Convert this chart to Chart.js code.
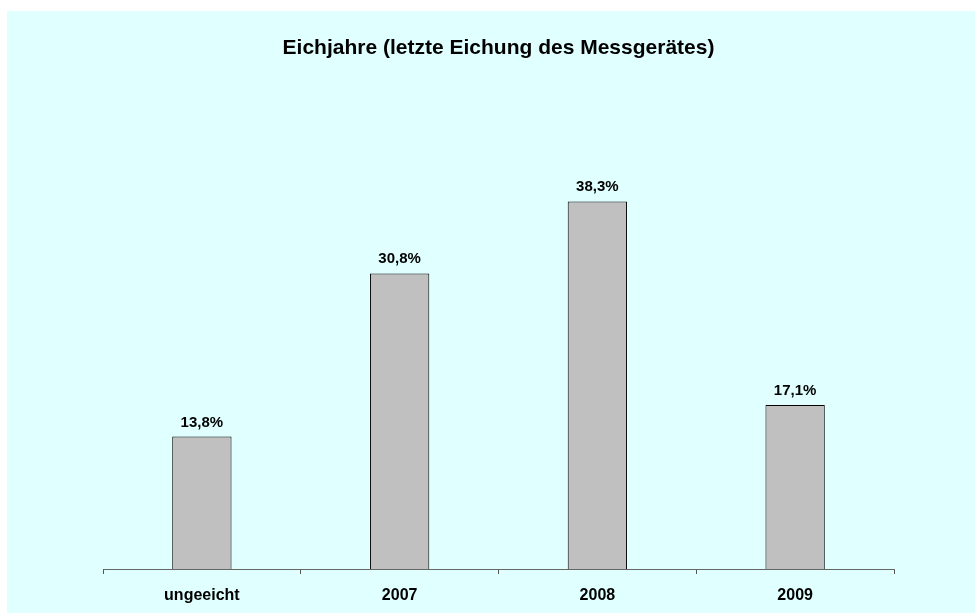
<!DOCTYPE html>
<html>
<head>
<meta charset="utf-8">
<script src="https://cdn.jsdelivr.net/npm/chart.js@4"></script>
<style>
  html, body { margin: 0; padding: 0; background: #fff; overflow: hidden; }
  #wrap { width: 975px; height: 613px; }
  canvas { display: block; }
</style>
</head>
<body>
<div id="wrap"><canvas id="eichjahre" width="975" height="613"></canvas></div>
<script>
const categories = ['ungeeicht', '2007', '2008', '2009'];
const shares = [13.8, 30.8, 38.3, 17.1];
const chartTitle = 'Eichjahre (letzte Eichung des Messgerätes)';

const FONT = "'Liberation Sans', Arial, sans-serif";

// light cyan panel behind the chart, white rim on top/left
const panelBg = {
    id: 'panelBg',
    beforeDraw(chart) {
        const ctx = chart.ctx;
        ctx.save();
        ctx.fillStyle = '#ffffff';
        ctx.fillRect(0, 0, chart.width, chart.height);
        ctx.fillStyle = '#E0FFFF';
        ctx.fillRect(7, 11, chart.width - 7, chart.height - 11);
        ctx.restore();
    }
};

// percentage labels above the bars
const barLabels = {
    id: 'barLabels',
    afterDatasetsDraw(chart) {
        const ctx = chart.ctx;
        const meta = chart.getDatasetMeta(0);
        ctx.save();
        ctx.font = 'bold 15px ' + FONT;
        ctx.fillStyle = '#000';
        ctx.textAlign = 'center';
        ctx.textBaseline = 'alphabetic';
        meta.data.forEach((bar, i) => {
            const txt = shares[i].toFixed(1).replace('.', ',') + '%';
            ctx.fillText(txt, bar.x, bar.y - 10);
        });
        ctx.restore();
    }
};

new Chart(document.getElementById('eichjahre'), {
    type: 'bar',
    data: {
        labels: categories,
        datasets: [{
            data: shares,
            backgroundColor: '#C0C0C0',
            borderColor: '#000000',
            borderWidth: 1,
            categoryPercentage: 1,
            barPercentage: 0.3
        }]
    },
    options: {
        responsive: false,
        animation: false,
        layout: {
            padding: { left: 103, right: 81, top: 30, bottom: 0 }
        },
        plugins: {
            legend: { display: false },
            tooltip: { enabled: false },
            title: {
                display: true,
                text: chartTitle,
                color: '#000',
                font: { family: FONT, size: 21, weight: 'bold' },
                padding: { top: 6, bottom: 76 }
            }
        },
        scales: {
            x: {
                afterFit(scale) { scale.height = 44; },
                grid: {
                    drawOnChartArea: false,
                    drawTicks: true,
                    tickLength: 5,
                    color: '#555'
                },
                border: { color: '#666', width: 1 },
                ticks: {
                    color: '#000',
                    padding: 12,
                    font: { family: FONT, size: 16, weight: 'bold' }
                }
            },
            y: {
                display: false,
                min: 0,
                max: 45
            }
        }
    },
    plugins: [panelBg, barLabels]
});
</script>
</body>
</html>
